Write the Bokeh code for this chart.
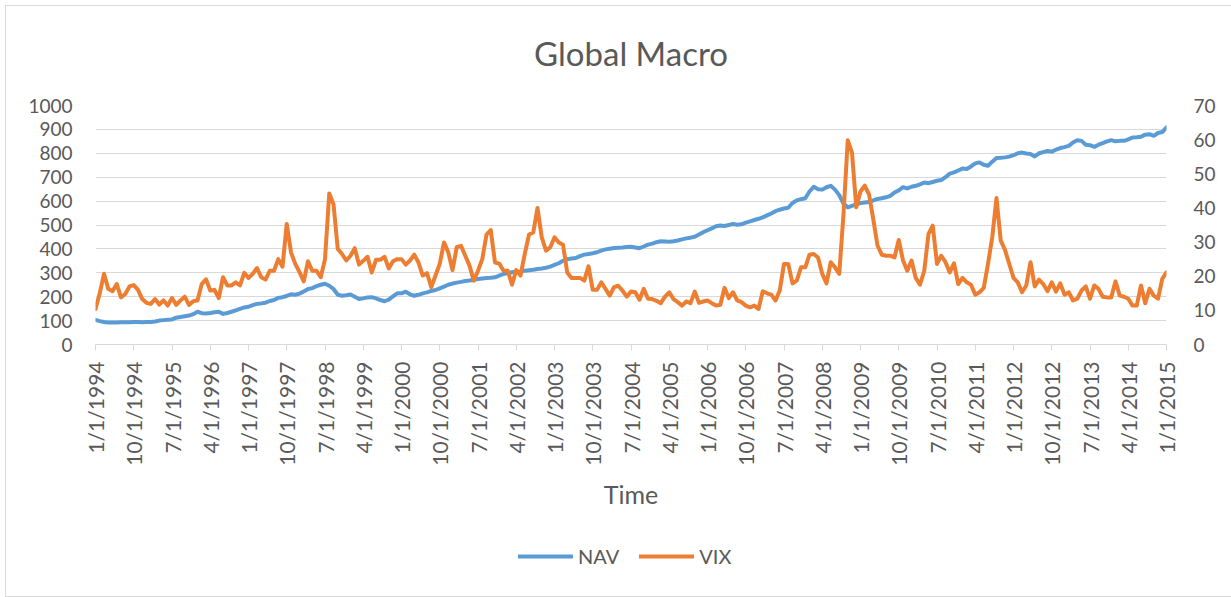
import math
from bokeh.plotting import figure
from bokeh.layouts import column
from bokeh.models import (Range1d, LinearAxis, FixedTicker, Legend, LegendItem,
                          ColumnDataSource)
from bokeh.embed import file_html
from bokeh.resources import INLINE

# ---------------- data (monthly, 1/1994 .. 1/2015) ----------------
nav = [
    103, 98, 94, 92, 92, 92, 93, 93, 93, 94, 94, 93,            # 1994
    94, 94, 96, 100, 102, 104, 105, 112, 115, 118, 121, 127,    # 1995
    137, 131, 130, 132, 135, 137, 128, 132, 137, 143, 149, 155, # 1996
    158, 165, 170, 172, 175, 182, 186, 195, 198, 203, 210, 208, # 1997
    213, 222, 232, 236, 244, 250, 254, 246, 232, 208, 204, 206, # 1998
    209, 200, 190, 193, 197, 198, 193, 186, 181, 188, 201, 214, # 1999
    214, 221, 210, 204, 208, 214, 218, 224, 228, 235, 242, 250, # 2000
    255, 259, 262, 266, 268, 271, 274, 276, 278, 279, 281, 288, # 2001
    295, 299, 302, 304, 306, 309, 311, 313, 316, 318, 321, 326, # 2002
    333, 340, 350, 357, 360, 362, 370, 376, 379, 382, 386, 393, # 2003
    398, 401, 404, 405, 406, 408, 409, 406, 403, 410, 418, 422, # 2004
    428, 432, 431, 430, 432, 435, 440, 444, 447, 451, 460, 470, # 2005
    478, 486, 495, 498, 496, 500, 504, 501, 503, 510, 515, 521, # 2006
    526, 532, 540, 548, 558, 564, 569, 572, 592, 603, 608, 612, # 2007
    640, 660, 650, 648, 658, 664, 648, 625, 590, 574, 580, 586, # 2008
    592, 594, 596, 603, 609, 612, 616, 622, 636, 645, 658, 653, # 2009
    660, 664, 670, 678, 675, 680, 685, 688, 700, 715, 720, 728, # 2010
    736, 734, 745, 758, 762, 752, 748, 765, 780, 781, 783, 786, # 2011
    792, 800, 803, 799, 797, 787, 800, 805, 810, 807, 815, 822, # 2012
    826, 831, 845, 855, 852, 836, 834, 827, 836, 843, 850, 855, # 2013
    850, 852, 852, 858, 866, 867, 869, 878, 880, 873, 885, 889, # 2014
    908,                                                         # 2015
]

vix = [
    10.4, 15.0, 20.7, 16.3, 15.6, 17.7, 13.8, 14.8, 17.0, 17.4, 16.0, 13.3,  # 1994
    12.2, 11.9, 13.3, 11.7, 12.9, 11.4, 13.6, 11.6, 12.9, 14.0, 11.6, 12.7,  # 1995
    12.9, 17.7, 19.1, 15.8, 16.0, 13.6, 19.7, 17.3, 17.3, 18.2, 17.3, 21.0,  # 1996
    19.5, 20.7, 22.4, 19.7, 19.0, 21.6, 21.6, 25.0, 22.8, 35.3, 27.0, 23.6,  # 1997
    21.2, 18.5, 24.4, 21.6, 21.6, 19.7, 25.0, 44.2, 41.1, 28.0, 26.5, 24.6,  # 1998
    26.0, 28.2, 23.4, 24.5, 25.7, 21.1, 24.8, 24.8, 25.7, 22.3, 24.4, 25.0,  # 1999
    25.0, 23.4, 24.6, 26.3, 24.0, 20.2, 20.9, 16.8, 20.2, 23.6, 29.9, 27.0,  # 2000
    21.8, 28.5, 28.9, 26.0, 23.1, 18.7, 21.6, 25.0, 32.2, 33.5, 24.0, 23.7,  # 2001
    21.6, 21.6, 17.5, 21.8, 20.2, 26.5, 32.2, 32.8, 40.0, 31.4, 27.5, 28.5,  # 2002
    31.4, 29.9, 29.2, 21.1, 19.5, 19.5, 19.5, 18.7, 22.9, 16.0, 16.0, 18.2,  # 2003
    16.3, 14.3, 16.8, 17.2, 15.8, 14.0, 15.5, 15.3, 13.1, 16.3, 13.4, 13.3,  # 2004
    12.8, 12.1, 14.0, 15.3, 13.3, 12.4, 11.4, 12.6, 12.1, 15.5, 12.2, 12.6,  # 2005
    12.9, 12.1, 11.4, 11.6, 16.6, 13.6, 15.3, 12.9, 12.4, 11.4, 10.9, 11.4,  # 2006
    10.4, 15.6, 15.0, 14.6, 12.9, 15.8, 23.6, 23.6, 17.9, 18.7, 22.6, 22.6,  # 2007
    26.3, 26.5, 25.5, 20.7, 17.9, 24.1, 22.6, 20.7, 38.2, 59.8, 56.2, 40.2,  # 2008
    44.8, 46.5, 44.0, 36.7, 29.0, 26.3, 26.0, 26.0, 25.5, 30.6, 24.6, 21.6,  # 2009
    24.6, 19.5, 17.5, 21.6, 32.4, 34.8, 23.6, 26.0, 24.1, 21.1, 23.8, 17.7,  # 2010
    19.5, 18.2, 17.5, 14.6, 15.3, 16.6, 23.6, 31.4, 42.9, 30.4, 27.7, 23.6,  # 2011
    19.5, 18.2, 15.3, 17.3, 24.1, 17.0, 19.0, 17.7, 15.6, 18.2, 15.5, 17.9,  # 2012
    14.6, 15.3, 12.9, 13.4, 15.8, 17.0, 13.4, 17.3, 16.3, 14.0, 13.8, 13.8,  # 2013
    18.5, 14.3, 14.0, 13.4, 11.4, 11.4, 17.3, 12.1, 16.3, 14.3, 13.4, 19.2,  # 2014
    21.1,                                                                    # 2015
]

tick_labels = [
    "1/1/1994", "10/1/1994", "7/1/1995", "4/1/1996", "1/1/1997", "10/1/1997",
    "7/1/1998", "4/1/1999", "1/1/2000", "10/1/2000", "7/1/2001", "4/1/2002",
    "1/1/2003", "10/1/2003", "7/1/2004", "4/1/2005", "1/1/2006", "10/1/2006",
    "7/1/2007", "4/1/2008", "1/1/2009", "10/1/2009", "7/1/2010", "4/1/2011",
    "1/1/2012", "10/1/2012", "7/1/2013", "4/1/2014", "1/1/2015",
]
tick_step = 9  # months between labelled ticks

left_ticks = list(range(0, 1001, 100))
right_ticks = list(range(0, 71, 10))

series_names = ["NAV", "VIX"]
series_colors = ["#5B9BD5", "#ED7D31"]

# ---------------- styling ----------------
FONT = "Lato"
TXT = "#595959"
GRID = "#d9d9d9"
W = 1231
H_MAIN = 530
H_LEG = 67
line_bg = "linear-gradient(#d9d9d9,#d9d9d9)"

months = list(range(len(nav)))
src = ColumnDataSource(dict(m=months, nav=nav, vix=vix))

# ---------------- main chart ----------------
p = figure(width=W, height=H_MAIN, output_backend="svg", toolbar_location=None,
           title="Global Macro",
           x_range=Range1d(0, len(nav) - 1), y_range=Range1d(0, 1000),
           min_border_left=95, min_border_right=65, min_border_top=105,
           min_border_bottom=H_MAIN - 344)
p.extra_y_ranges = {"vix": Range1d(0, 70)}
p.outline_line_color = None
p.background_fill_color = "white"
p.border_fill_alpha = 0
p.styles = {
    "background": (f"{line_bg} 5px 5px / 1px {H_MAIN}px no-repeat, "
                   f"{line_bg} 5px 5px / {W}px 1px no-repeat, #ffffff"),
}

p.title.align = "center"
p.title.vertical_align = "top"
p.title.text_font = FONT
p.title.text_font_size = "33px"
p.title.text_font_style = "normal"
p.title.text_color = TXT
p.title.standoff = 62

# x axis
xa = p.xaxis[0]
xa.ticker = FixedTicker(ticks=[i * tick_step for i in range(len(tick_labels))])
xa.major_label_overrides = {i * tick_step: lab for i, lab in enumerate(tick_labels)}
xa.major_label_orientation = math.pi / 2
xa.major_label_text_font = FONT
xa.major_label_text_font_size = "21px"
xa.major_label_text_color = TXT
xa.major_label_standoff = 11
xa.axis_line_color = GRID
xa.major_tick_line_color = GRID
xa.major_tick_out = 6
xa.major_tick_in = 0
xa.minor_tick_line_color = None
xa.axis_label = "Time"
xa.axis_label_text_font = FONT
xa.axis_label_text_font_size = "25px"
xa.axis_label_text_font_style = "normal"
xa.axis_label_text_color = TXT
xa.axis_label_standoff = 10

# left axis
ya = p.yaxis[0]
ya.ticker = FixedTicker(ticks=left_ticks)
ya.major_label_text_font = FONT
ya.major_label_text_font_size = "19px"
ya.major_label_text_color = TXT
ya.major_label_standoff = 23
ya.axis_line_color = None
ya.major_tick_line_color = None
ya.major_tick_out = 0
ya.major_tick_in = 0
ya.minor_tick_line_color = None

# right axis
ra = LinearAxis(y_range_name="vix", ticker=FixedTicker(ticks=right_ticks))
ra.major_label_text_font = FONT
ra.major_label_text_font_size = "19px"
ra.major_label_text_color = TXT
ra.major_label_standoff = 27
ra.axis_line_color = None
ra.major_tick_line_color = None
ra.major_tick_out = 0
ra.major_tick_in = 0
ra.minor_tick_line_color = None
p.add_layout(ra, "right")

p.xgrid.grid_line_color = None
p.ygrid.grid_line_color = GRID
p.ygrid.grid_line_width = 1

p.line("m", "nav", source=src, line_color=series_colors[0], line_width=4,
       line_join="round", line_cap="round")
p.line("m", "vix", source=src, y_range_name="vix", line_color=series_colors[1],
       line_width=4, line_join="round", line_cap="round")

# ---------------- legend strip (bottom) ----------------
q = figure(width=W, height=H_LEG, output_backend="svg", toolbar_location=None,
           x_range=Range1d(0, 1), y_range=Range1d(0, 1),
           x_axis_location=None, y_axis_location=None,
           min_border_left=0, min_border_right=0, min_border_top=0,
           min_border_bottom=0)
q.grid.visible = False
q.outline_line_color = None
q.background_fill_alpha = 0
q.border_fill_alpha = 0
q.styles = {
    "background": (f"{line_bg} 5px 0px / 1px {H_LEG - 1}px no-repeat, "
                   f"{line_bg} 5px {H_LEG - 1}px / {W}px 1px no-repeat, #ffffff"),
}
# same series through the legend strip's own scales (they fall outside its 0..1 view)
l1 = q.line("m", "nav", source=src, line_color=series_colors[0], line_width=4,
            line_cap="round")
l2 = q.line("m", "vix", source=src, line_color=series_colors[1], line_width=4,
            line_cap="round")

legend = Legend(items=[LegendItem(label=series_names[0], renderers=[l1]),
                       LegendItem(label=series_names[1], renderers=[l2])],
                orientation="horizontal", location=(423, 29),
                padding=0, margin=0, spacing=20, glyph_width=55, glyph_height=20,
                label_standoff=5, border_line_color=None, background_fill_alpha=0,
                label_text_font=FONT, label_text_font_size="20px",
                label_text_color=TXT)
q.add_layout(legend, "center")

layout = column(p, q, spacing=0)
open("out.html", "w").write(file_html(layout, INLINE))
